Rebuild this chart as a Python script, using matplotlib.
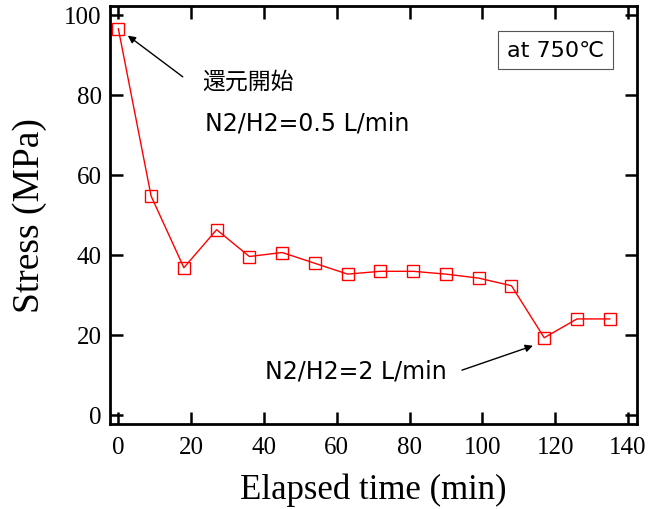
import matplotlib
matplotlib.use("Agg")
import matplotlib.pyplot as plt

# Stress relaxation during reduction at 750C
elapsed_min = [0, 9, 18, 27, 36, 45, 54, 63, 72, 81, 90, 99, 108, 117, 126, 135]
stress_mpa = [96.5, 54.7, 36.8, 46.3, 39.6, 40.6, 37.9, 35.2, 35.9, 35.9,
              35.2, 34.2, 32.3, 19.3, 24.0, 24.0]

x_ticks = [0, 20, 40, 60, 80, 100, 120, 140]
y_ticks = [0, 20, 40, 60, 80, 100]

serif = ['Liberation Serif', 'DejaVu Serif']
sans = ['DejaVu Sans', 'Noto Sans CJK JP']

fig = plt.figure(figsize=(6.57, 5.10), dpi=100)
ax = fig.add_axes([0.1674, 0.1667, 0.8022, 0.8196])

ax.plot(elapsed_min, stress_mpa, color='#ff0000', linewidth=1.0,
        marker='s', markersize=8.5, markerfacecolor='none',
        markeredgecolor='#ff0000', markeredgewidth=1.0)

ax.set_xlim(-2.3, 142.5)
ax.set_ylim(-2.25, 102.2)
ax.set_xticks(x_ticks)
ax.set_yticks(y_ticks)

for sp in ax.spines.values():
    sp.set_linewidth(2.0)
ax.tick_params(direction='in', top=True, right=True, length=9, width=1.8,
               labelsize=18)
ax.tick_params(axis='x', pad=9)
ax.tick_params(axis='y', pad=6)
for lbl in ax.get_xticklabels() + ax.get_yticklabels():
    lbl.set_family(serif)

ax.set_xlabel('Elapsed time (min)', fontsize=25, family=serif, labelpad=10)
ax.set_ylabel('Stress (MPa)', fontsize=27, family=serif, labelpad=12)

# annotations
ax.annotate('', xy=(2.6, 94.8), xytext=(17.7, 84.5),
            arrowprops=dict(arrowstyle='-|>', color='black', lw=1.0,
                            mutation_scale=11, shrinkA=0, shrinkB=0))
ax.text(23, 83.5, '還元開始', fontsize=16.5, family=['Noto Sans CJK JP', 'DejaVu Sans'],
        va='center', ha='left')
ax.text(23.8, 73.2, 'N2/H2=0.5 L/min', fontsize=17, family=sans,
        va='center', ha='left')

ax.annotate('', xy=(113.9, 17.3), xytext=(94.4, 11.2),
            arrowprops=dict(arrowstyle='-|>', color='black', lw=1.0,
                            mutation_scale=11, shrinkA=0, shrinkB=0))
ax.text(40.2, 11.2, 'N2/H2=2 L/min', fontsize=17, family=sans,
        va='center', ha='left')

ax.text(0.846, 0.895, 'at 750℃', transform=ax.transAxes, fontsize=16,
        family=sans, ha='center', va='center',
        bbox=dict(boxstyle='square,pad=0.4', facecolor='white',
                  edgecolor='#555555', linewidth=0.8))

fig.savefig('out.png', dpi=100)
